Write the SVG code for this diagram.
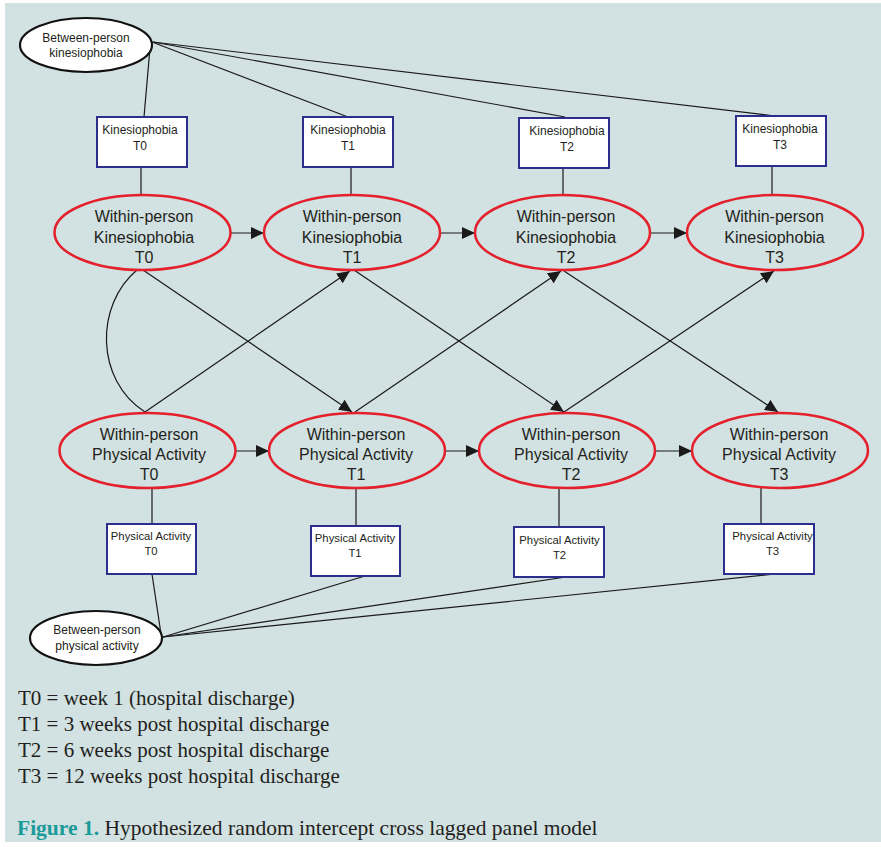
<svg xmlns="http://www.w3.org/2000/svg" width="881" height="847" viewBox="0 0 881 847">
<defs>
<marker id="ah" markerUnits="userSpaceOnUse" markerWidth="14" markerHeight="12" refX="13" refY="6" orient="auto">
<path d="M0,0 L13,6 L0,12 Z" fill="#1a1a1a"/>
</marker>
<style>
.bg{fill:#d2e1e1}
.ln{stroke:#1a1a1a;stroke-width:1.2;fill:none}
.ar{stroke:#1a1a1a;stroke-width:1.2;fill:none;marker-end:url(#ah)}
.box{fill:#fff;stroke:#2b2e8c;stroke-width:2}
.wp{fill:none;stroke:#e3202b;stroke-width:2.5}
.bp{fill:#fff;stroke:#111;stroke-width:2.2}
.tb{font-family:"Liberation Sans",Arial,sans-serif;font-size:16px;fill:#231f20;text-anchor:middle}
.ts{font-family:"Liberation Sans",Arial,sans-serif;font-size:12px;fill:#231f20;text-anchor:middle}
.tp{font-family:"Liberation Sans",Arial,sans-serif;font-size:11.3px;fill:#231f20;text-anchor:middle}
.lg{font-family:"Liberation Serif","Times New Roman",serif;font-size:21px;fill:#231f20}
.cap{font-family:"Liberation Serif","Times New Roman",serif;font-size:21.5px;fill:#231f20}
</style>
</defs>
<rect x="0" y="0" width="881" height="847" fill="#ffffff"/>
<rect class="bg" x="5" y="3" width="876" height="839"/>

<g id="connectors">
<line class="ln" x1="150" y1="48" x2="144" y2="117"/>
<line class="ln" x1="152" y1="42" x2="348" y2="117"/>
<line class="ln" x1="153" y1="42" x2="565" y2="117"/>
<line class="ln" x1="153" y1="42" x2="775" y2="116"/>
<line class="ln" x1="141" y1="167" x2="141" y2="195"/>
<line class="ln" x1="351" y1="167" x2="351" y2="195"/>
<line class="ln" x1="563" y1="168" x2="563" y2="195"/>
<line class="ln" x1="772" y1="166" x2="772" y2="195"/>
<line class="ar" x1="231" y1="233" x2="264" y2="233"/>
<line class="ar" x1="440" y1="233" x2="475" y2="233"/>
<line class="ar" x1="650" y1="233" x2="687" y2="233"/>
<line class="ar" x1="236" y1="451" x2="269" y2="451"/>
<line class="ar" x1="445" y1="451" x2="479" y2="451"/>
<line class="ar" x1="656" y1="451" x2="692" y2="451"/>
<line class="ar" x1="143" y1="270" x2="352" y2="412"/>
<line class="ar" x1="145" y1="412" x2="350" y2="271"/>
<line class="ar" x1="354" y1="270" x2="564" y2="412"/>
<line class="ar" x1="355" y1="412" x2="561" y2="271"/>
<line class="ar" x1="564" y1="271" x2="778" y2="412"/>
<line class="ar" x1="564" y1="412" x2="774" y2="271"/>
<path class="ln" d="M137,270 C95,305 95,380 145,412"/>
<line class="ln" x1="152" y1="488" x2="152" y2="524"/>
<line class="ln" x1="356" y1="488" x2="356" y2="526"/>
<line class="ln" x1="559" y1="488" x2="559" y2="527"/>
<line class="ln" x1="761" y1="488" x2="761" y2="524"/>
<line class="ln" x1="152" y1="574" x2="161" y2="634"/>
<line class="ln" x1="365" y1="576" x2="163" y2="637"/>
<line class="ln" x1="566" y1="577" x2="163" y2="637"/>
<line class="ln" x1="775" y1="574" x2="163" y2="637"/>
</g>

<g id="bp-kinesiophobia">
<ellipse class="bp" cx="86" cy="45" rx="66" ry="27"/>
<text class="ts" x="86" y="42">Between-person</text>
<text class="ts" x="86" y="57">kinesiophobia</text>
</g>

<g id="kin-t0"><rect class="box" x="97" y="117" width="90" height="50"/><text class="ts" x="140" y="134">Kinesiophobia</text><text class="ts" x="140" y="150">T0</text></g>
<g id="kin-t1"><rect class="box" x="303" y="117" width="90" height="50"/><text class="ts" x="348" y="134">Kinesiophobia</text><text class="ts" x="348" y="150">T1</text></g>
<g id="kin-t2"><rect class="box" x="519" y="118" width="90" height="50"/><text class="ts" x="567" y="135">Kinesiophobia</text><text class="ts" x="567" y="151">T2</text></g>
<g id="kin-t3"><rect class="box" x="736" y="116" width="90" height="50"/><text class="ts" x="780" y="133">Kinesiophobia</text><text class="ts" x="780" y="149">T3</text></g>

<g id="wk-t0"><ellipse class="wp" cx="142.5" cy="232.5" rx="88" ry="37.5"/><text class="tb" x="144" y="222">Within-person</text><text class="tb" x="144" y="242.5">Kinesiophobia</text><text class="tb" x="144" y="263">T0</text></g>
<g id="wk-t1"><ellipse class="wp" cx="352" cy="232.5" rx="88" ry="37.5"/><text class="tb" x="352" y="222">Within-person</text><text class="tb" x="352" y="242.5">Kinesiophobia</text><text class="tb" x="352" y="263">T1</text></g>
<g id="wk-t2"><ellipse class="wp" cx="562.5" cy="232.5" rx="87.5" ry="37.5"/><text class="tb" x="566" y="222">Within-person</text><text class="tb" x="566" y="242.5">Kinesiophobia</text><text class="tb" x="566" y="263">T2</text></g>
<g id="wk-t3"><ellipse class="wp" cx="775" cy="232.5" rx="88" ry="37.5"/><text class="tb" x="774.5" y="222">Within-person</text><text class="tb" x="774.5" y="242.5">Kinesiophobia</text><text class="tb" x="774.5" y="263">T3</text></g>

<g id="wpa-t0"><ellipse class="wp" cx="147.5" cy="450.5" rx="88" ry="37.5"/><text class="tb" x="149" y="440">Within-person</text><text class="tb" x="149" y="460">Physical Activity</text><text class="tb" x="149" y="480">T0</text></g>
<g id="wpa-t1"><ellipse class="wp" cx="357" cy="450.5" rx="88" ry="37.5"/><text class="tb" x="356" y="440">Within-person</text><text class="tb" x="356" y="460">Physical Activity</text><text class="tb" x="356" y="480">T1</text></g>
<g id="wpa-t2"><ellipse class="wp" cx="567" cy="450.5" rx="88" ry="37.5"/><text class="tb" x="571" y="440">Within-person</text><text class="tb" x="571" y="460">Physical Activity</text><text class="tb" x="571" y="480">T2</text></g>
<g id="wpa-t3"><ellipse class="wp" cx="780" cy="450.5" rx="88" ry="37.5"/><text class="tb" x="779" y="440">Within-person</text><text class="tb" x="779" y="460">Physical Activity</text><text class="tb" x="779" y="480">T3</text></g>

<g id="pa-t0"><rect class="box" x="107" y="524" width="89" height="50"/><text class="tp" x="151" y="540">Physical Activity</text><text class="tp" x="151" y="555">T0</text></g>
<g id="pa-t1"><rect class="box" x="311" y="526" width="89" height="50"/><text class="tp" x="355" y="542">Physical Activity</text><text class="tp" x="355" y="557">T1</text></g>
<g id="pa-t2"><rect class="box" x="514" y="527" width="90" height="50"/><text class="tp" x="559.5" y="544">Physical Activity</text><text class="tp" x="559.5" y="559">T2</text></g>
<g id="pa-t3"><rect class="box" x="724" y="524" width="90" height="50"/><text class="tp" x="772.5" y="540">Physical Activity</text><text class="tp" x="772.5" y="555">T3</text></g>

<g id="bp-physical-activity">
<ellipse class="bp" cx="96" cy="638" rx="66" ry="27"/>
<text class="ts" x="97" y="634">Between-person</text>
<text class="ts" x="97" y="650">physical activity</text>
</g>

<g id="legend">
<text class="lg" x="18" y="705">T0 = week 1 (hospital discharge)</text>
<text class="lg" x="18" y="731">T1 = 3 weeks post hospital discharge</text>
<text class="lg" x="18" y="757">T2 = 6 weeks post hospital discharge</text>
<text class="lg" x="18" y="783">T3 = 12 weeks post hospital discharge</text>
<text class="cap" x="17" y="835"><tspan fill="#1b9a9a" font-weight="bold">Figure 1.</tspan> Hypothesized random intercept cross lagged panel model</text>
</g>
</svg>
